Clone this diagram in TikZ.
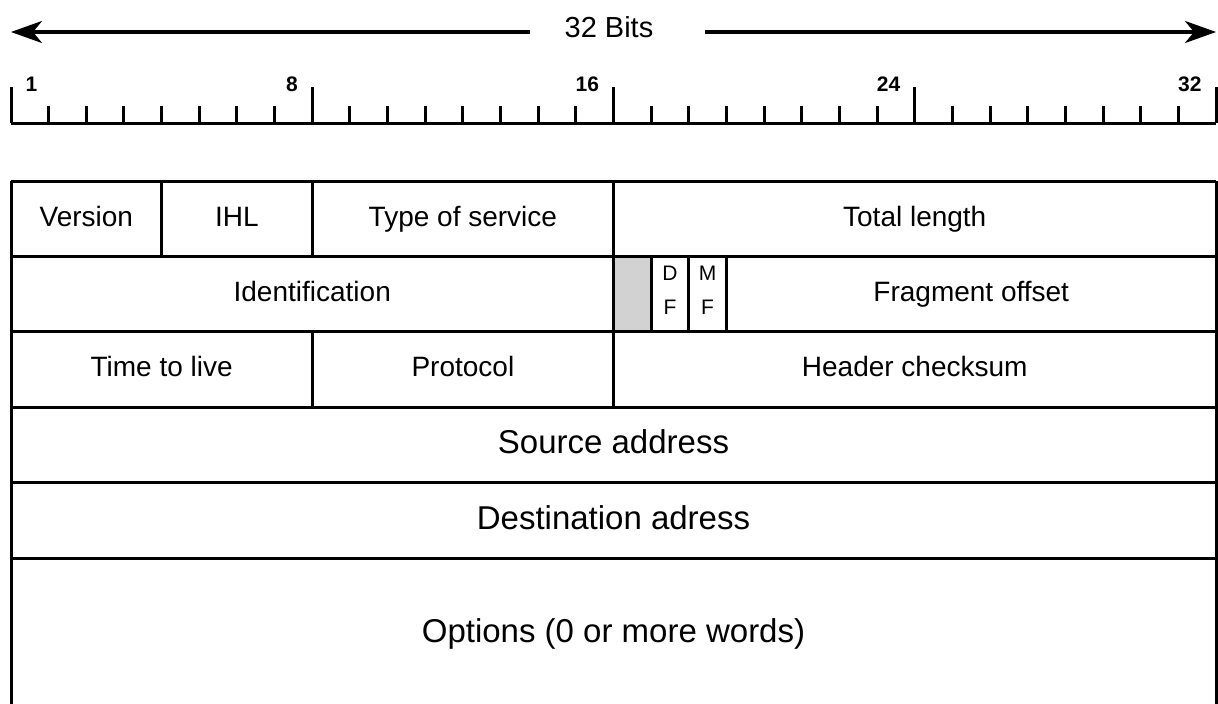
\documentclass[tikz,border=0pt]{standalone}
\usepackage{fontspec}
\setmainfont{Liberation Sans}
\usetikzlibrary{arrows.meta}

\tikzset{
  field/.style={font=\fontsize{28}{30}\selectfont, anchor=base, inner sep=0pt},
  bigfield/.style={font=\fontsize{33}{36}\selectfont, anchor=base, inner sep=0pt},
  flag/.style={font=\fontsize{21}{34}\selectfont, align=center},
  bitnum/.style={font=\bfseries\fontsize{21}{21}\selectfont, inner sep=0pt},
  bitarrow/.style={line width=3.5pt, -{Stealth[length=31pt,width=22pt,inset=9pt]}},
}

\begin{document}
\begin{tikzpicture}[x=1pt,y=-1pt,line width=3pt]
\useasboundingbox (0,0) rectangle (1218,704);
\def\xl{11}
\def\xr{1216}
\def\bw{37.656}

% 32 bits arrow
\node[field, font=\fontsize{29}{30}\selectfont] (bits) at (609,37) {32 Bits};
\coordinate (la) at (530,32);
\coordinate (ra) at (705,32);
\coordinate (le) at (\xl,32);
\coordinate (re) at (\xr,32);
\draw[bitarrow] (la) -- (le);
\draw[bitarrow] (ra) -- (re);

% ruler
\draw (\xl,123) -- (\xr,123);
\foreach \b in {1,...,31}
  \draw (\xl+\b*\bw,123) -- ++(0,-17);
\foreach \b in {0,8,16,24,32}
  \draw (\xl+\b*\bw,123) -- ++(0,-36);
\node[bitnum, anchor=south west] (n1) at (\xl+13,93) {1};
\foreach \b in {8,16,24,32}
  \node[bitnum, anchor=south east] (n\b) at (\xl+\b*\bw-13,93) {\b};

% header fields
\fill[gray!35] (\xl+16*\bw,256) rectangle (\xl+17*\bw,331);
\foreach \y in {181,256,331,407,482,558}
  \draw (\xl,\y) -- (\xr,\y);
\draw (\xl,181) -- (\xl,704);
\draw (\xr,181) -- (\xr,704);
\foreach \b in {4,8,16}
  \draw (\xl+\b*\bw,181) -- (\xl+\b*\bw,256);
\foreach \b in {16,17,18,19}
  \draw (\xl+\b*\bw,256) -- (\xl+\b*\bw,331);
\foreach \b in {8,16}
  \draw (\xl+\b*\bw,331) -- (\xl+\b*\bw,407);

\node[field] (ver)   at (\xl+2*\bw,226) {Version};
\node[field] (ihl)   at (\xl+6*\bw,226) {IHL};
\node[field] (tos)   at (\xl+12*\bw,226) {Type of service};
\node[field] (tlen)  at (\xl+24*\bw,226) {Total length};
\node[field] (ident) at (\xl+8*\bw,301) {Identification};
\node[flag]  (df)    at (\xl+17.5*\bw,290) {D\\F};
\node[flag]  (mf)    at (\xl+18.5*\bw,290) {M\\F};
\node[field] (foff)  at (\xl+25.5*\bw,301) {Fragment offset};
\node[field] (ttl)   at (\xl+4*\bw,376) {Time to live};
\node[field] (proto) at (\xl+12*\bw,376) {Protocol};
\node[field] (hcs)   at (\xl+24*\bw,376) {Header checksum};
\node[bigfield] (src) at (\xl+16*\bw,453) {Source address};
\node[bigfield] (dst) at (\xl+16*\bw,529) {Destination adress};
\node[bigfield] (opt) at (\xl+16*\bw,642) {Options (0 or more words)};
\end{tikzpicture}
\end{document}
